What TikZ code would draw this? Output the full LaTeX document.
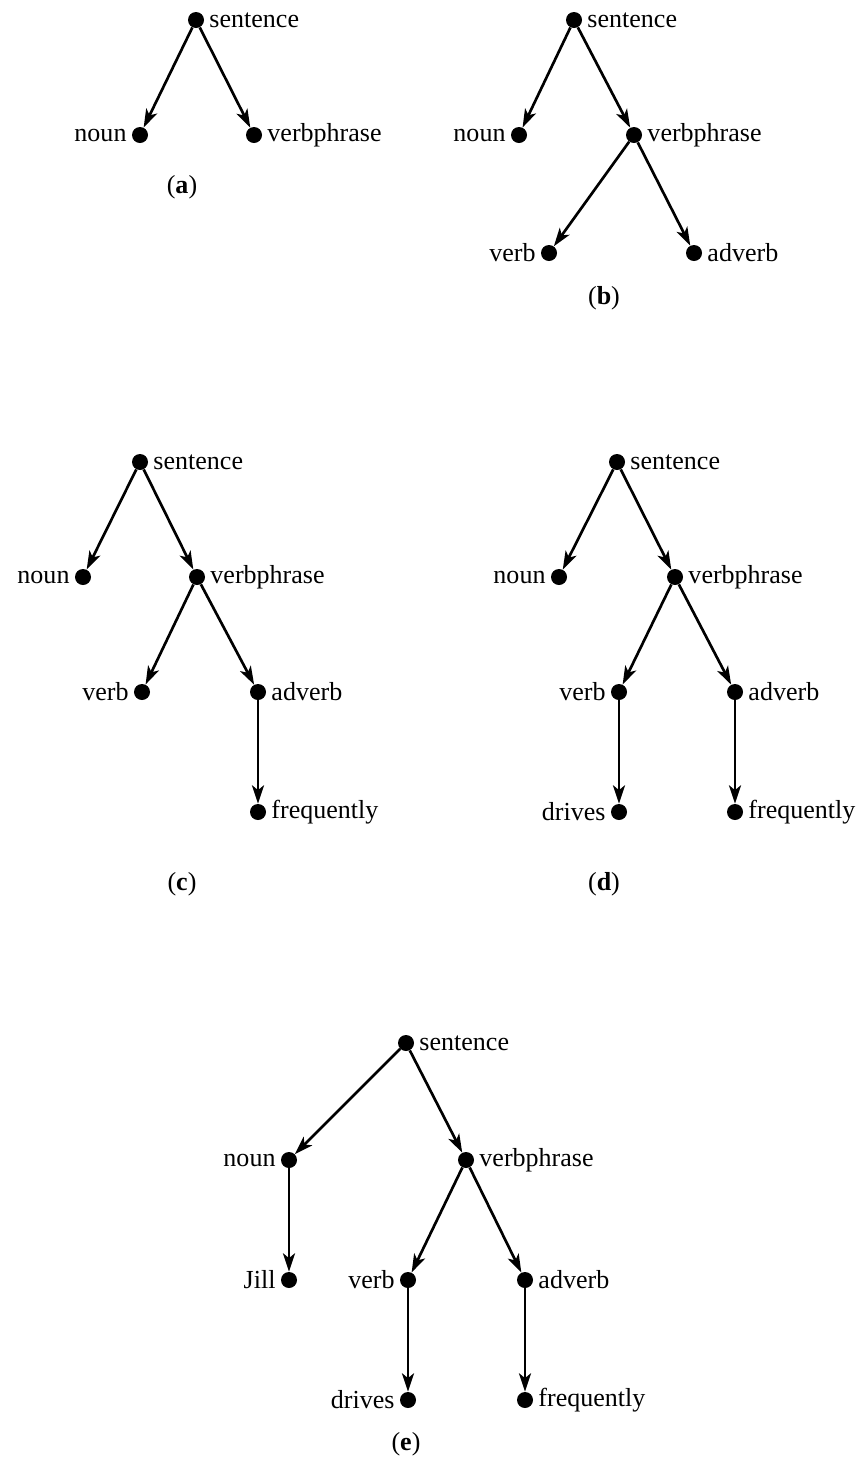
\documentclass[tikz,border=0pt]{standalone}
\usepackage{fontspec}
\setmainfont{Liberation Serif}
\usetikzlibrary{arrows.meta}
\tikzset{
  dot/.style={circle, fill=black, inner sep=0pt, minimum size=0.4cm, label distance=0pt},
  every label/.style={inner sep=3.5pt},
  edge/.style={-{Stealth[length=0.46cm, width=0.3cm, inset=0.12cm]}, line width=1.9pt},
  subcap/.style={inner sep=0pt}
}
\begin{document}
\fontsize{18.5}{22}\selectfont
\begin{tikzpicture}[x=0.025cm, y=-0.025cm]
\useasboundingbox (0,0) rectangle (864,1461);
% (a)
\node[dot, label=right:sentence] (sa) at (196,20) {};
\node[dot, label=left:noun] (na) at (140,135) {};
\node[dot, label=right:verbphrase] (va) at (254,135) {};
\node[subcap] (capa) at (182,187) {(\textbf{a})};
\draw[edge] (sa) -- (na);
\draw[edge] (sa) -- (va);
% (b)
\node[dot, label=right:sentence] (sb) at (574,20) {};
\node[dot, label=left:noun] (nb) at (519,135) {};
\node[dot, label=right:verbphrase] (vpb) at (634,135) {};
\node[dot, label=left:verb] (vb) at (549,253) {};
\node[dot, label=right:adverb] (ab) at (694,253) {};
\node[subcap] (capb) at (604,298) {(\textbf{b})};
\draw[edge] (sb) -- (nb);
\draw[edge] (sb) -- (vpb);
\draw[edge] (vpb) -- (vb);
\draw[edge] (vpb) -- (ab);
% (c)
\node[dot, label=right:sentence] (sc) at (140,462) {};
\node[dot, label=left:noun] (nc) at (83,577) {};
\node[dot, label=right:verbphrase] (vpc) at (197,577) {};
\node[dot, label=left:verb] (vc) at (142,692) {};
\node[dot, label=right:adverb] (ac) at (258,692) {};
\node[dot, label=right:frequently] (fc) at (258,812) {};
\node[subcap] (capc) at (182,884) {(\textbf{c})};
\draw[edge] (sc) -- (nc);
\draw[edge] (sc) -- (vpc);
\draw[edge] (vpc) -- (vc);
\draw[edge] (vpc) -- (ac);
\draw[edge] (ac) -- (fc);
% (d)
\node[dot, label=right:sentence] (sd) at (617,462) {};
\node[dot, label=left:noun] (nd) at (559,577) {};
\node[dot, label=right:verbphrase] (vpd) at (675,577) {};
\node[dot, label=left:verb] (vd) at (619,692) {};
\node[dot, label=right:adverb] (ad) at (735,692) {};
\node[dot, label=left:drives] (dd) at (619,812) {};
\node[dot, label=right:frequently] (fd) at (735,812) {};
\node[subcap] (capd) at (604,884) {(\textbf{d})};
\draw[edge] (sd) -- (nd);
\draw[edge] (sd) -- (vpd);
\draw[edge] (vpd) -- (vd);
\draw[edge] (vpd) -- (ad);
\draw[edge] (vd) -- (dd);
\draw[edge] (ad) -- (fd);
% (e)
\node[dot, label=right:sentence] (se) at (406,1043) {};
\node[dot, label=left:noun] (ne) at (289,1160) {};
\node[dot, label=right:verbphrase] (vpe) at (466,1160) {};
\node[dot, label=left:Jill] (je) at (289,1280) {};
\node[dot, label=left:verb] (ve) at (408,1280) {};
\node[dot, label=right:adverb] (ae) at (525,1280) {};
\node[dot, label=left:drives] (de) at (408,1400) {};
\node[dot, label=right:frequently] (fe) at (525,1400) {};
\node[subcap] (cape) at (406,1444) {(\textbf{e})};
\draw[edge] (se) -- (ne);
\draw[edge] (se) -- (vpe);
\draw[edge] (ne) -- (je);
\draw[edge] (vpe) -- (ve);
\draw[edge] (vpe) -- (ae);
\draw[edge] (ve) -- (de);
\draw[edge] (ae) -- (fe);
\end{tikzpicture}
\end{document}
